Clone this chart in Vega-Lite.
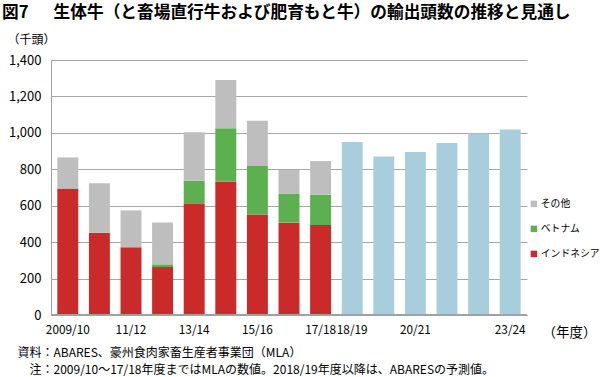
{
  "$schema": "https://vega.github.io/schema/vega-lite/v6.json",
  "width": 476,
  "height": 255,
  "autosize": {"type": "none"},
  "padding": {"left": 51, "top": 60, "right": 73, "bottom": 62},
  "background": "white",
  "config": {
    "font": "Noto Sans CJK JP",
    "view": {"stroke": null}
  },
  "title": {
    "text": "図7　\u2002生体牛（と畜場直行牛および肥育もと牛）の輸出頭数の推移と見通し",
    "anchor": "start",
    "frame": "group",
    "dx": -49,
    "dy": -7,
    "fontSize": 16.7,
    "fontWeight": "bold",
    "color": "#000000",
    "offset": 4
  },
  "data": {
    "values": [
      {"year": "2009/10", "series": "インドネシア", "rank": 1, "value": 694},
      {"year": "2009/10", "series": "ベトナム", "rank": 2, "value": 0},
      {"year": "2009/10", "series": "その他", "rank": 3, "value": 171},
      {"year": "10/11", "series": "インドネシア", "rank": 1, "value": 452},
      {"year": "10/11", "series": "ベトナム", "rank": 2, "value": 0},
      {"year": "10/11", "series": "その他", "rank": 3, "value": 271},
      {"year": "11/12", "series": "インドネシア", "rank": 1, "value": 372},
      {"year": "11/12", "series": "ベトナム", "rank": 2, "value": 0},
      {"year": "11/12", "series": "その他", "rank": 3, "value": 202},
      {"year": "12/13", "series": "インドネシア", "rank": 1, "value": 263},
      {"year": "12/13", "series": "ベトナム", "rank": 2, "value": 15},
      {"year": "12/13", "series": "その他", "rank": 3, "value": 230},
      {"year": "13/14", "series": "インドネシア", "rank": 1, "value": 609},
      {"year": "13/14", "series": "ベトナム", "rank": 2, "value": 128},
      {"year": "13/14", "series": "その他", "rank": 3, "value": 266},
      {"year": "14/15", "series": "インドネシア", "rank": 1, "value": 732},
      {"year": "14/15", "series": "ベトナム", "rank": 2, "value": 293},
      {"year": "14/15", "series": "その他", "rank": 3, "value": 265},
      {"year": "15/16", "series": "インドネシア", "rank": 1, "value": 552},
      {"year": "15/16", "series": "ベトナム", "rank": 2, "value": 266},
      {"year": "15/16", "series": "その他", "rank": 3, "value": 249},
      {"year": "16/17", "series": "インドネシア", "rank": 1, "value": 507},
      {"year": "16/17", "series": "ベトナム", "rank": 2, "value": 160},
      {"year": "16/17", "series": "その他", "rank": 3, "value": 129},
      {"year": "17/18", "series": "インドネシア", "rank": 1, "value": 494},
      {"year": "17/18", "series": "ベトナム", "rank": 2, "value": 166},
      {"year": "17/18", "series": "その他", "rank": 3, "value": 185},
      {"year": "18/19", "series": "予測", "rank": 4, "value": 950},
      {"year": "19/20", "series": "予測", "rank": 4, "value": 870},
      {"year": "20/21", "series": "予測", "rank": 4, "value": 895},
      {"year": "21/22", "series": "予測", "rank": 4, "value": 944},
      {"year": "22/23", "series": "予測", "rank": 4, "value": 996},
      {"year": "23/24", "series": "予測", "rank": 4, "value": 1019}
    ]
  },
  "layer": [
    {
      "mark": {"type": "bar"},
      "encoding": {
        "x": {
          "field": "year",
          "type": "ordinal",
          "sort": null,
          "scale": {"paddingInner": 0.337, "paddingOuter": 0.2},
          "axis": {
            "values": ["2009/10", "11/12", "13/14", "15/16", "17/18", "18/19", "20/21", "23/24"],
            "title": "（年度）",
            "titleFontSize": 13.5,
            "titleFontWeight": "normal",
            "titleColor": "#000000",
            "titleAngle": 0,
            "titleAlign": "left",
            "titleBaseline": "middle",
            "titleX": 491,
            "titleY": 17,
            "labelAngle": 0,
            "labelFontSize": 11.8,
            "labelColor": "#000000",
            "labelPadding": 9,
            "ticks": false,
            "domain": true,
            "domainColor": "#a0a0a0",
            "grid": false
          }
        },
        "y": {
          "field": "value",
          "type": "quantitative",
          "aggregate": "sum",
          "stack": "zero",
          "scale": {"domain": [0, 1400], "nice": false},
          "axis": {
            "values": [0, 200, 400, 600, 800, 1000, 1200, 1400],
            "labelExpr": "format(datum.value, ',')",
            "title": "（千頭）",
            "titleFontSize": 12,
            "titleFontWeight": "normal",
            "titleColor": "#000000",
            "titleAngle": 0,
            "titleAlign": "left",
            "titleBaseline": "middle",
            "titleX": -44,
            "titleY": -21,
            "labelFontSize": 13,
            "labelColor": "#000000",
            "labelPadding": 10,
            "ticks": false,
            "domain": true,
            "domainColor": "#a0a0a0",
            "grid": true,
            "gridColor": "#a6a6a6"
          }
        },
        "order": {"field": "rank", "type": "quantitative", "sort": "ascending"},
        "color": {
          "field": "series",
          "type": "nominal",
          "scale": {
            "domain": ["インドネシア", "ベトナム", "その他", "予測"],
            "range": ["#cb2a2a", "#5cb050", "#bebebe", "#a8cedd"]
          },
          "legend": {
            "values": ["その他", "ベトナム", "インドネシア"],
            "title": null,
            "orient": "none",
            "legendX": 478,
            "legendY": 139,
            "padding": 0,
            "symbolType": "square",
            "symbolSize": 42,
            "symbolStrokeWidth": 0,
            "symbolOpacity": 1,
            "labelFontSize": 9.8,
            "labelColor": "#000000",
            "labelOffset": 2,
            "labelLimit": 200,
            "rowPadding": 14
          }
        }
      }
    },
    {
      "mark": {"type": "rule", "color": "#a0a0a0"},
      "encoding": {
        "y": {
          "datum": 0,
          "type": "quantitative",
          "axis": {
            "orient": "right",
            "labels": false,
            "ticks": false,
            "domain": false,
            "grid": false,
            "title": ["資料：ABARES、豪州食肉家畜生産者事業団（MLA）", "\u200b　注：2009/10～17/18年度まではMLAの数値。2018/19年度以降は、ABARESの予測値。"],
            "titleFontSize": 12,
            "titleFontWeight": "normal",
            "titleColor": "#000000",
            "titleAngle": 0,
            "titleAlign": "left",
            "titleBaseline": "top",
            "titleLineHeight": 17,
            "titleX": -510,
            "titleY": 287
          }
        }
      }
    }
  ],
  "resolve": {"axis": {"y": "independent"}}
}
